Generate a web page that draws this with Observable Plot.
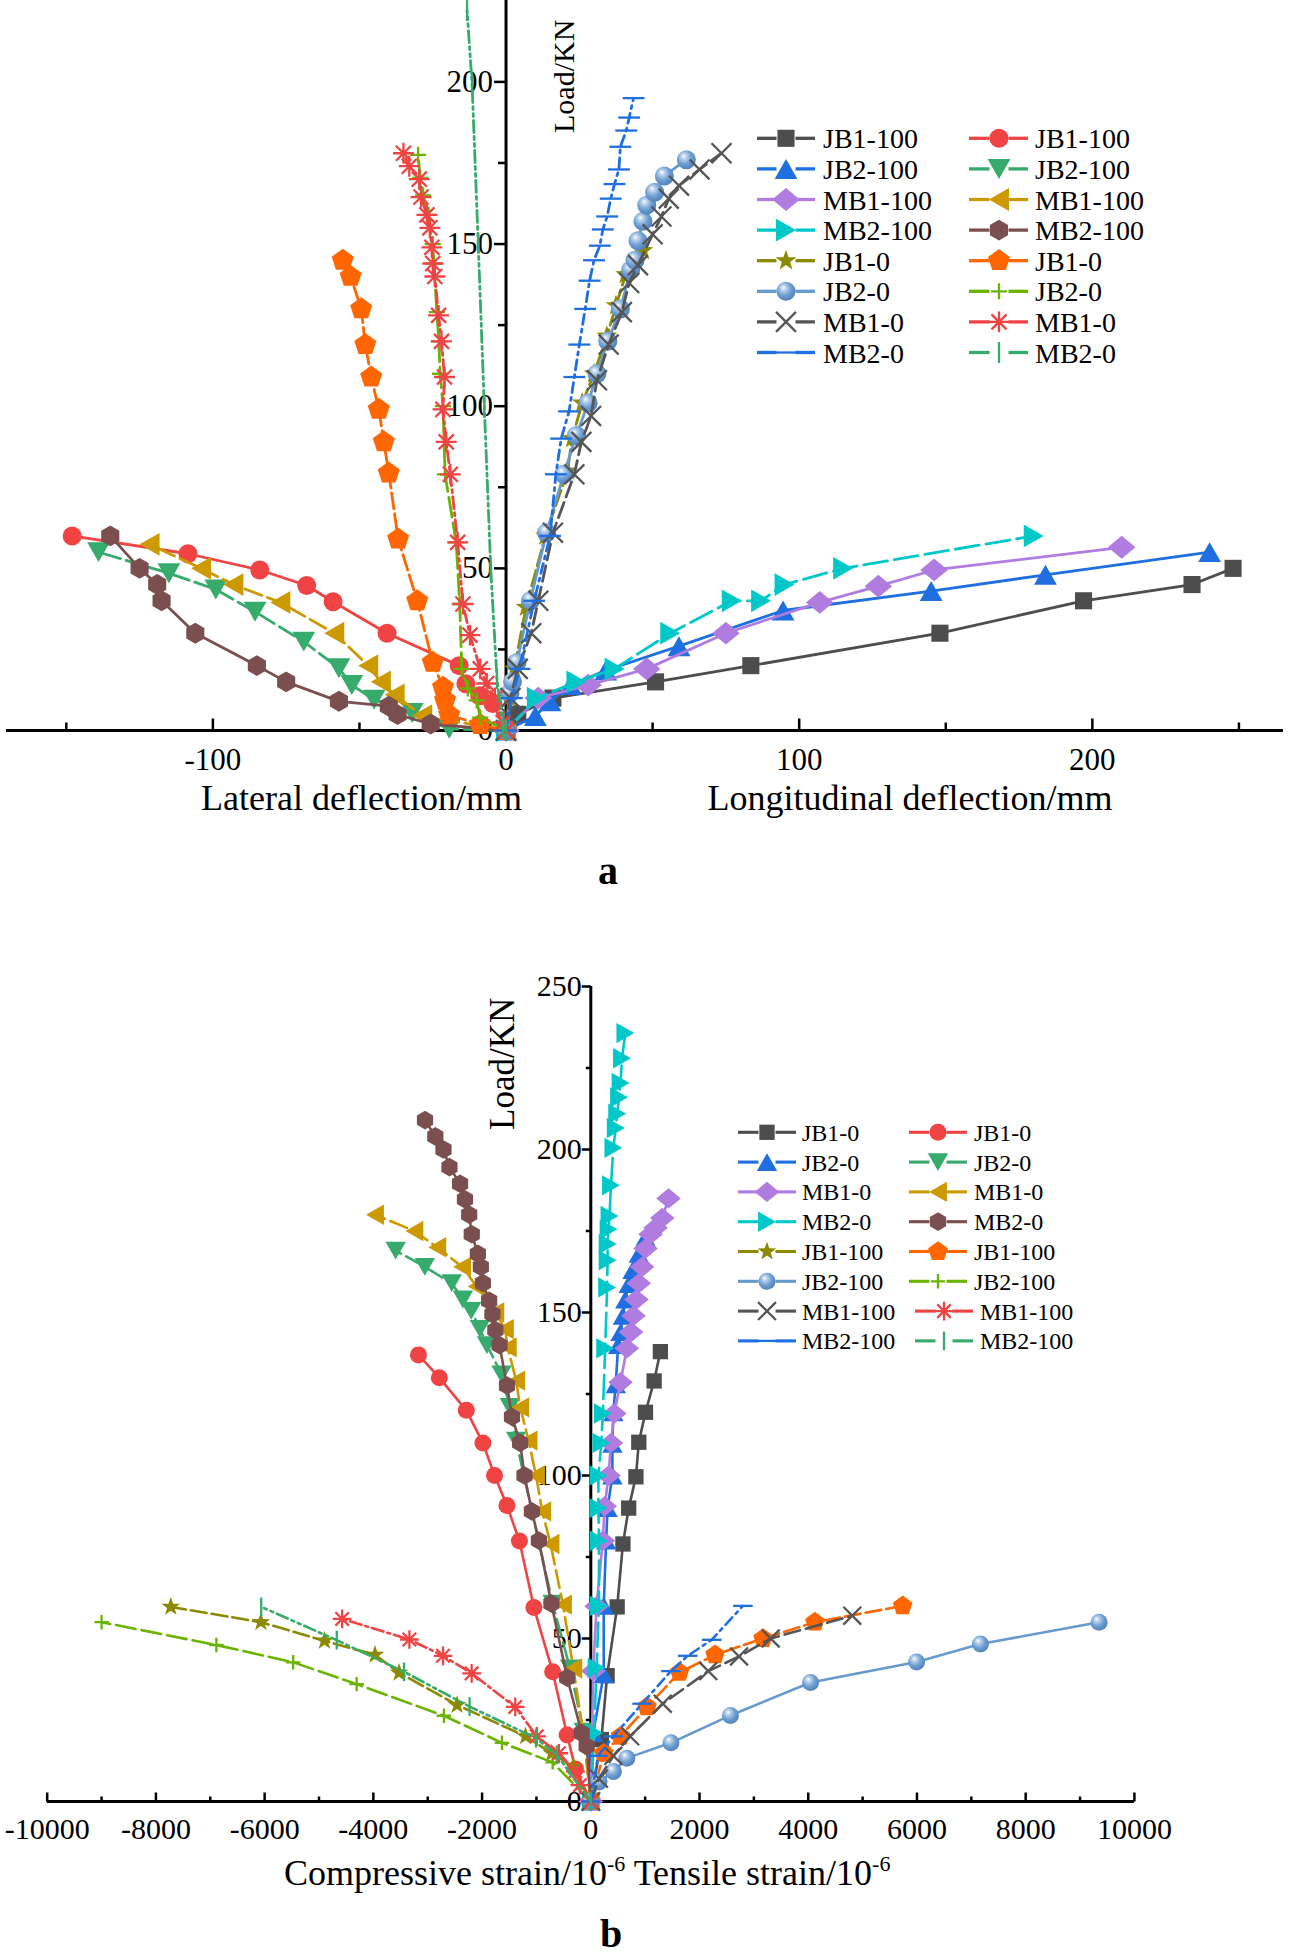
<!DOCTYPE html>
<html><head><meta charset="utf-8">
<script src="https://cdn.jsdelivr.net/npm/d3@7"></script>
<script src="https://cdn.jsdelivr.net/npm/@observablehq/plot@0.6"></script>
<style>
html,body{margin:0;padding:0;background:#fff;}
#chart{width:1302px;}
#chart svg{display:block;}
</style></head><body><div id="chart"></div>
<script>
// ================= Panel a: [deflection mm, load kN] =================
const aNames = ["JB1-100","JB1-100","JB2-100","JB2-100","MB1-100","MB1-100","MB2-100","MB2-100","JB1-0","JB1-0","JB2-0","JB2-0","MB1-0","MB1-0","MB2-0","MB2-0"];
const aJB1_100_lon = [[0,0],[4,5],[16,10],[51,15],[83.5,20],[148,30],[197,40],[234,45],[248,50]];
const aJB1_100_lat = [[0,0],[-4.5,8.3],[-9,10.7],[-13.7,14.4],[-16,20],[-40.6,30],[-59,39.7],[-68,44.7],[-84,49.5],[-108.5,54.5],[-148,60]];
const aJB2_100_lon = [[0,0],[10,4.5],[15,9],[22,14],[34,18.5],[59,26],[94.5,37],[145,43],[184,48],[240,55]];
const aJB2_100_lat = [[0,0],[-19.4,0.5],[-32,5.4],[-45,9.5],[-52.6,14],[-57,19.2],[-69,27.4],[-85.6,36.6],[-99,43.5],[-115,48.5],[-139,55]];
const aMB1_100_lon = [[0,0],[11,10],[28,14],[48,19],[75,30],[107,39.5],[127,44.5],[146,49.5],[210,56.5]];
const aMB1_100_lat = [[0,0],[-28.6,4.6],[-38,11],[-42.7,15],[-47,20],[-58.6,30],[-77,39.5],[-93,45],[-104,50],[-121.6,57.4]];
const aMB2_100_lon = [[0,0],[10.5,10],[24,15],[37,19],[56,30],[77,40],[87,40],[95,45],[115,50],[180,60]];
const aMB2_100_lat = [[0,0],[-25.7,2],[-37,4.9],[-40,7.5],[-57,9],[-75,15],[-85,20],[-106,30],[-117.5,40],[-119,45],[-125,50],[-135,60]];
const aJB1_0_lon = [[0,0],[1,10],[2.8,19],[6.8,38],[13.4,60],[21,80],[22.5,90],[26,101],[30,110],[34.4,121.6],[37.5,131],[40.8,140.6],[46.7,148]];
const aJB1_0_lat = [[0,0],[-8.8,1.8],[-19.4,4.8],[-20.8,9.3],[-21.5,13.3],[-25,21],[-30.3,40],[-36.8,59],[-40,79.4],[-41.7,89],[-43.4,99],[-46,109],[-48,119],[-49.4,130],[-53,140],[-55.7,145]];
const aJB2_0_lon = [[0,0],[1.3,11.5],[2.2,15],[3.7,21],[8.3,40],[13.8,61],[19.7,79],[24,91],[28,101],[31,110],[34.7,120],[39,130],[42.5,142],[44,145],[45,151],[46.7,157],[48,162],[50.7,166],[54,171],[61.5,176]];
const aJB2_0_lat = [[0,0],[-8.8,4],[-10,9.3],[-13,13],[-15.1,19],[-15.8,39],[-17,58],[-20.8,79],[-21.5,100],[-22.5,110],[-22.9,120],[-23.6,129],[-24.6,144],[-25,150],[-26.4,159],[-28.3,165],[-29.3,170.4],[-30,177.5]];
const aMB1_0_lon = [[0,0],[0.5,5],[1.5,10],[4,19],[8.6,30],[11,40],[16,61],[23.3,79],[25.7,89],[29,97],[31,108],[35,119],[39.5,129],[42,138],[45,143.5],[50,153],[53,158.5],[55.5,164],[59,168],[66,173],[73.5,178]];
const aMB1_0_lat = [[0,0],[-1,2.5],[-3.8,10],[-6.6,14.5],[-8.8,19],[-12.3,29.4],[-14.7,39],[-16.5,58],[-19,79],[-20.4,89],[-21.5,99],[-21,109],[-22,120],[-23,128],[-24.3,140],[-25,144],[-25.3,149],[-26,155],[-27,159],[-29,164.5],[-29.6,170],[-33,174],[-35,178]];
const aMB2_0_lon = [[0,0],[2,10],[4.6,19],[9.6,40],[15,60],[17,79],[18.8,90],[21.5,98.4],[23.3,109],[25,119],[27,130],[28.5,138.7],[30,145],[32,149.5],[33,154.5],[34.5,158.5],[35.7,164],[37,168.5],[38.5,173],[39,180],[41,185],[42,189],[43.5,195]];
const aMB2_0_lat = [[0,0],[-1,1],[-3.1,16],[-5.2,49.6],[-7.4,99.6],[-9.5,150.3],[-11.6,199.6],[-13.3,222]];
const aSeries = [aJB1_100_lon,aJB1_100_lat,aJB2_100_lon,aJB2_100_lat,aMB1_100_lon,aMB1_100_lat,aMB2_100_lon,aMB2_100_lat,aJB1_0_lon,aJB1_0_lat,aJB2_0_lon,aJB2_0_lat,aMB1_0_lon,aMB1_0_lat,aMB2_0_lon,aMB2_0_lat];
const aXMajor = [-100,100,200];
const aXMinor = [-150,-50,50,150,250];
const aYMajor = [50,100,150,200];
const aYMinor = [25,75,125,175];
const aXLabels = [-100,0,100,200];
const aYLabels = [0,50,100,150,200];

// ================= Panel b: [strain 1e-6, load kN] =================
const bNames = ["JB1-0","JB1-0","JB2-0","JB2-0","MB1-0","MB1-0","MB2-0","MB2-0","JB1-100","JB1-100","JB2-100","JB2-100","MB1-100","MB1-100","MB2-100","MB2-100"];
const bJB1_0_ten = [[0,0],[194,19],[300,38.6],[485,59.7],[591,79],[697,90],[830,99.6],[883,110.2],[1006,119.4],[1165,129],[1280,138]];
const bJB1_0_com = [[0,0],[-283,10],[-435,20.4],[-702,39.8],[-1046,59.5],[-1313,79.9],[-1542,90.8],[-1771,100],[-1985,110],[-2290,120],[-2787,130],[-3170,137]];
const bJB2_0_ten = [[0,0],[44,21],[238,39],[238,60],[282,80],[309,90],[397,100],[397,109.7],[415,119.4],[459,128],[503,140],[547,144],[591,149],[635,154],[697,158.7],[768,163],[883,168],[1006,173]];
const bJB2_0_com = [[0,0],[-130,21.4],[-382,40.8],[-702,60.7],[-1374,110.7],[-1490,121],[-1642,131],[-1910,140],[-2040,145],[-2200,150.5],[-2352,154],[-2558,159],[-3054,164],[-3590,169]];
const bMB1_0_ten = [[0,0],[44,40],[106,59.9],[221,80],[256,90.6],[327,100],[371,110],[432,119],[547,128.6],[662,139],[741,144],[786,149],[838,154],[883,159],[944,164],[1006,169.6],[1100,174],[1192,176],[1315,179],[1430,185]];
const bMB1_0_com = [[0,0],[-130,19.9],[-321,40.8],[-512,60.4],[-741,79],[-893,89],[-1008,100],[-1145,110.7],[-1298,120.9],[-1374,129.1],[-1527,139.3],[-1580,144.9],[-1756,150],[-2100,158],[-2367,164],[-2825,170],[-3245,175],[-3970,180]];
const bMB2_0_ten = [[0,0],[62,21],[106,41],[150,60],[150,80],[140,90],[140,100],[194,110],[221,119],[265,139],[300,157.7],[309,166],[309,171],[327,175.5],[344,179.6],[371,189],[415,200.5],[459,206.6],[485,211],[520,216],[547,220.4],[574,228],[636,235.7]];
const bMB2_0_com = [[0,0],[-76,17],[-168,21],[-435,38],[-725,60.7],[-955,80],[-1084,89],[-1220,100],[-1300,110],[-1450,118],[-1542,127.6],[-1680,140],[-1756,144.6],[-1810,149.5],[-1870,153.6],[-1985,159],[-2023,164],[-2077,168],[-2190,174],[-2237,180],[-2315,184.7],[-2405,189.5],[-2600,194.6],[-2710,200],[-2860,204],[-3050,209]];
const bJB1_100_com = [[0,0],[-321,10.7],[-718,14.8],[-1200,20],[-2460,29.6],[-3528,39.5],[-3970,45],[-4900,49.3],[-6070,55],[-7727,59.7]];
const bJB1_100_ten = [[0,0],[238,14.8],[547,20],[1033,29],[1633,39.6],[2286,45],[3169,50],[4122,55],[5737,60]];
const bJB2_100_ten = [[0,0],[150,6],[415,9.2],[662,13.3],[1474,18],[2568,26.4],[4042,36.5],[5993,42.8],[7167,48.3],[9350,55]];
const bJB2_100_com = [[0,0],[-702,12],[-1634,18],[-2703,26.3],[-4307,36],[-5475,42.7],[-6888,48],[-9000,55]];
const bMB1_100_ten = [[0,0],[150,7],[415,14],[724,20],[1324,30],[2162,40],[2727,44.5],[3310,50],[4810,57]];
const bMB1_100_com = [[0,0],[-200,5],[-283,9.2],[-588,14.8],[-993,20],[-1390,29],[-2192,39.3],[-2718,44.7],[-3337,49.7],[-4574,56]];
const bMB2_100_ten = [[0,0],[132,14],[415,20],[944,30],[1474,40],[1783,44.7],[2224,49.6],[2798,60]];
const bMB2_100_com = [[0,0],[-626,14.3],[-1008,19.4],[-2230,29.1],[-3436,39.8],[-4673,49.5],[-6063,59.7]];
const bSeries = [bJB1_0_ten,bJB1_0_com,bJB2_0_ten,bJB2_0_com,bMB1_0_ten,bMB1_0_com,bMB2_0_ten,bMB2_0_com,bJB1_100_com,bJB1_100_ten,bJB2_100_ten,bJB2_100_com,bMB1_100_ten,bMB1_100_com,bMB2_100_ten,bMB2_100_com];
const bXMajor = [-10000,-8000,-6000,-4000,-2000,0,2000,4000,6000,8000,10000];
const bXMinor = [-9000,-7000,-5000,-3000,-1000,1000,3000,5000,7000,9000];
const bYMajor = [50,100,150,200,250];
const bYMinor = [25,75,125,175,225];
const bXLabels = [-10000,-8000,-6000,-4000,-2000,0,2000,4000,6000,8000,10000];
const bYLabels = [0,50,100,150,200,250];

// ================= styles =================
const FONT = "'Liberation Serif','Times New Roman',Times,serif";
const colors = ["#4d4d4d","#f04343","#1f6fe0","#36ab6b","#b07ce0","#cc9900","#00c8c8","#7b4f4f","#8c8a00","#ff6600","#6699cc","#6ab400","#555555","#f04343","#1f6fe0","#36ab6b"];
const dashes = ["none","none","none","18,6","none","18,6","24,7","none","16,5","16,5","none","20,6","16,6","12,4,3,4","10,5,3,5","12,4,3,4,3,4"];

const S = f => ({draw(c, size){ const R = Math.sqrt(size / Math.PI); f(c, R); }});
const poly = (c, pts) => { c.moveTo(pts[0][0], pts[0][1]); for (let k = 1; k < pts.length; k++) c.lineTo(pts[k][0], pts[k][1]); c.closePath(); };
const regular = (n, rad, start) => d3.range(n).map(k => [rad*Math.cos(start + 2*Math.PI*k/n), rad*Math.sin(start + 2*Math.PI*k/n)]);
const symCircle = S((c,R) => { c.moveTo(R,0); c.arc(0,0,R,0,2*Math.PI); c.closePath(); });
const symSquare = S((c,R) => { const h = 0.9*R; poly(c, [[-h,-h],[h,-h],[h,h],[-h,h]]); });
const symTriUp = S((c,R) => { const w = 1.2*R, h = 1.05*R; poly(c, [[0,-h],[w,h],[-w,h]]); });
const symTriDown = S((c,R) => { const w = 1.2*R, h = 1.05*R; poly(c, [[0,h],[w,-h],[-w,-h]]); });
const symTriLeft = S((c,R) => { const w = 1.2*R, h = 1.05*R; poly(c, [[-h,0],[h,-w],[h,w]]); });
const symTriRight = S((c,R) => { const w = 1.2*R, h = 1.05*R; poly(c, [[h,0],[-h,-w],[-h,w]]); });
const symDiamond = S((c,R) => poly(c, [[0,-1.2*R],[1.45*R,0],[0,1.2*R],[-1.45*R,0]]));
const symHexagon = S((c,R) => poly(c, regular(6, 1.1*R, -Math.PI/2)));
const symPentagon = S((c,R) => poly(c, regular(5, 1.22*R, -Math.PI/2)));
const symStar = S((c,R) => { const pts = []; for (let k = 0; k < 10; k++) { const rad = k % 2 ? 0.46*R : 1.15*R; const a = -Math.PI/2 + Math.PI*k/5; pts.push([rad*Math.cos(a), rad*Math.sin(a)]); } poly(c, pts); });
const symTimes = S((c,R) => { const a = 1.05*R; c.moveTo(-a,-a); c.lineTo(a,a); c.moveTo(-a,a); c.lineTo(a,-a); });
const symAsterisk = S((c,R) => { const a = 1.1*R, b = a*0.72; c.moveTo(-a,0); c.lineTo(a,0); c.moveTo(0,-a); c.lineTo(0,a); c.moveTo(-b,-b); c.lineTo(b,b); c.moveTo(-b,b); c.lineTo(b,-b); });
const symPlus = S((c,R) => { const a = 0.85*R; c.moveTo(-a,0); c.lineTo(a,0); c.moveTo(0,-a); c.lineTo(0,a); });
const symHBar = S((c,R) => { const a = 1.15*R; c.moveTo(-a,0); c.lineTo(a,0); });
const symVBar = S((c,R) => { const a = 1.1*R; c.moveTo(0,-a); c.lineTo(0,a); });
const symbols = [symSquare,symCircle,symTriUp,symTriDown,symDiamond,symTriLeft,symTriRight,symHexagon,symStar,symPentagon,symCircle,symPlus,symTimes,symAsterisk,symHBar,symVBar];
const filled = [true,true,true,true,true,true,true,true,true,true,true,false,false,false,false,false];
const tickUp = L => ({draw(c){ c.moveTo(0,0); c.lineTo(0,-L); }});
const tickLeft = L => ({draw(c){ c.moveTo(0,0); c.lineTo(-L,0); }});
const fmt = d => (d < 0 ? "-" : "") + Math.abs(d);

function buildPanel(o) {
  const marks = [];
  marks.push(Plot.ruleY([0], {stroke: "black", strokeWidth: 3}));
  marks.push(Plot.ruleX([0], {y1: o.yDomain[0], y2: o.yTop, stroke: "black", strokeWidth: 3}));
  marks.push(Plot.dot(o.xMajor, {x: d => d, y: 0, symbol: tickUp(o.tMajor), stroke: "black", strokeWidth: 2.5, fill: "none"}));
  marks.push(Plot.dot(o.xMinor, {x: d => d, y: 0, symbol: tickUp(o.tMinor), stroke: "black", strokeWidth: 2.5, fill: "none"}));
  marks.push(Plot.dot(o.yMajor, {x: 0, y: d => d, symbol: tickLeft(o.tMajor), stroke: "black", strokeWidth: 2.5, fill: "none"}));
  marks.push(Plot.dot(o.yMinor, {x: 0, y: d => d, symbol: tickLeft(o.tMinor), stroke: "black", strokeWidth: 2.5, fill: "none"}));
  marks.push(Plot.text(o.xLabels, {x: d => d, y: 0, text: fmt, dy: o.xLabelDy, fontSize: o.tickFont, fill: "black"}));
  marks.push(Plot.text(o.yLabels, {x: 0, y: d => d, text: fmt, textAnchor: "end", dx: o.yLabelDx, fontSize: o.tickFont, fill: "black"}));
  o.series.forEach((data, i) => {
    const col = colors[i];
    marks.push(Plot.line(data, {x: d => d[0], y: d => d[1], stroke: col, strokeWidth: o.lw, strokeDasharray: dashes[i], strokeLinejoin: "round"}));
    const f = i === 10 ? `url(#${o.gradId})` : col;
    marks.push(Plot.dot(data, {x: d => d[0], y: d => d[1], symbol: symbols[i], r: o.r,
      fill: filled[i] ? f : "none", stroke: filled[i] ? "none" : col, strokeWidth: filled[i] ? 0 : 2.3}));
  });
  const svg = Plot.plot({
    width: 1302, height: o.height,
    marginLeft: o.ml, marginRight: o.mr, marginTop: o.mt, marginBottom: o.mb,
    x: {domain: o.xDomain, axis: null},
    y: {domain: o.yDomain, axis: null},
    style: {fontFamily: FONT, background: "white", color: "black", overflow: "visible"},
    marks
  });
  const sel = d3.select(svg);
  const grad = sel.append("defs").append("radialGradient").attr("id", o.gradId)
    .attr("cx", "0.42").attr("cy", "0.4").attr("r", "0.62").attr("fx", "0.36").attr("fy", "0.3");
  [["0","#ffffff"],["0.22","#bcd3ec"],["0.6","#6f9fd3"],["1","#4f80ba"]].forEach(([k, c]) => grad.append("stop").attr("offset", k).attr("stop-color", c));
  // legend
  const g = sel.append("g").attr("font-family", FONT);
  o.names.forEach((name, i) => {
    const colIdx = i % 2, row = Math.floor(i / 2);
    const L = o.legend.cols[colIdx];
    const shift = (colIdx === 1 && row >= 6) ? o.legend.shift : 0;
    const y = o.legend.y0 + row * o.legend.dy;
    const xm = L.xm + shift, gap = o.r * 1.0;
    const col = colors[i];
    g.append("line").attr("x1", L.x0 + shift).attr("x2", xm - gap).attr("y1", y).attr("y2", y).attr("stroke", col).attr("stroke-width", o.lw + 0.5);
    g.append("line").attr("x1", xm + gap).attr("x2", L.x1 + shift).attr("y1", y).attr("y2", y).attr("stroke", col).attr("stroke-width", o.lw + 0.5);
    const p = d3.symbol(symbols[i], Math.PI * o.r * o.r)();
    const f = i === 10 ? `url(#${o.gradId})` : col;
    g.append("path").attr("d", p).attr("transform", `translate(${xm},${y})`)
      .attr("fill", filled[i] ? f : "none").attr("stroke", filled[i] ? "none" : col).attr("stroke-width", filled[i] ? 0 : 2.3);
    g.append("text").attr("x", L.tx + shift).attr("y", y + o.legend.base).attr("font-size", o.legend.font).attr("fill", "black").attr("text-anchor", "start").text(name);
  });
  return svg;
}

const svgA = buildPanel({
  height: 900, ml: 6, mr: 19, mt: 0, mb: 170,
  xDomain: [-170.4, 265.2], yDomain: [0, 225.1], yTop: 225.1,
  xMajor: aXMajor, xMinor: aXMinor, yMajor: aYMajor, yMinor: aYMinor,
  xLabels: aXLabels, yLabels: aYLabels, xLabelDy: 30, yLabelDx: -13, tickFont: 31,
  tMajor: 12, tMinor: 8, series: aSeries, r: 9.5, lw: 2.8, gradId: "sphA", names: aNames,
  legend: {y0: 138.3, dy: 30.6, base: 10, font: 28, shift: 0,
    cols: [{x0: 757, xm: 786, x1: 815, tx: 823}, {x0: 969, xm: 999, x1: 1028, tx: 1035}]}
});
const selA = d3.select(svgA);
selA.append("text").attr("transform", "translate(574,133) rotate(-90)").attr("font-family", FONT).attr("font-size", 30).attr("text-anchor", "start").text("Load/KN");
selA.append("text").attr("x", 361.5).attr("y", 810).attr("font-family", FONT).attr("font-size", 36).attr("text-anchor", "middle").text("Lateral deflection/mm");
selA.append("text").attr("x", 910).attr("y", 810).attr("font-family", FONT).attr("font-size", 36).attr("text-anchor", "middle").text("Longitudinal deflection/mm");
selA.append("text").attr("x", 608).attr("y", 884).attr("font-family", FONT).attr("font-size", 40).attr("font-weight", "bold").attr("text-anchor", "middle").text("a");

const svgB = buildPanel({
  height: 1057, ml: 46.7, mr: 168.1, mt: 86, mb: 156,
  xDomain: [-10000, 10000], yDomain: [0, 250], yTop: 250,
  xMajor: bXMajor, xMinor: bXMinor, yMajor: bYMajor, yMinor: bYMinor,
  xLabels: bXLabels, yLabels: bYLabels, xLabelDy: 28, yLabelDx: -9, tickFont: 30,
  tMajor: 9, tMinor: 5, series: bSeries, r: 8.5, lw: 2.6, gradId: "sphB", names: bNames,
  legend: {y0: 232.3, dy: 29.8, base: 8.5, font: 24, shift: 6,
    cols: [{x0: 738, xm: 767, x1: 796, tx: 802}, {x0: 909, xm: 938, x1: 967, tx: 974}]}
});
const selB = d3.select(svgB);
selB.append("text").attr("transform", "translate(514,230) rotate(-90)").attr("font-family", FONT).attr("font-size", 35).attr("text-anchor", "start").text("Load/KN");
const xt = selB.append("text").attr("x", 284).attr("y", 985).attr("font-family", FONT).attr("font-size", 36).attr("text-anchor", "start");
xt.append("tspan").text("Compressive strain/10");
xt.append("tspan").attr("dy", -14).attr("font-size", 22).text("-6");
xt.append("tspan").attr("dy", 14).text(" Tensile strain/10");
xt.append("tspan").attr("dy", -14).attr("font-size", 22).text("-6");
selB.append("text").attr("x", 611).attr("y", 1047).attr("font-family", FONT).attr("font-size", 40).attr("font-weight", "bold").attr("text-anchor", "middle").text("b");

const root = document.getElementById("chart");
root.appendChild(svgA);
root.appendChild(svgB);
</script></body></html>
